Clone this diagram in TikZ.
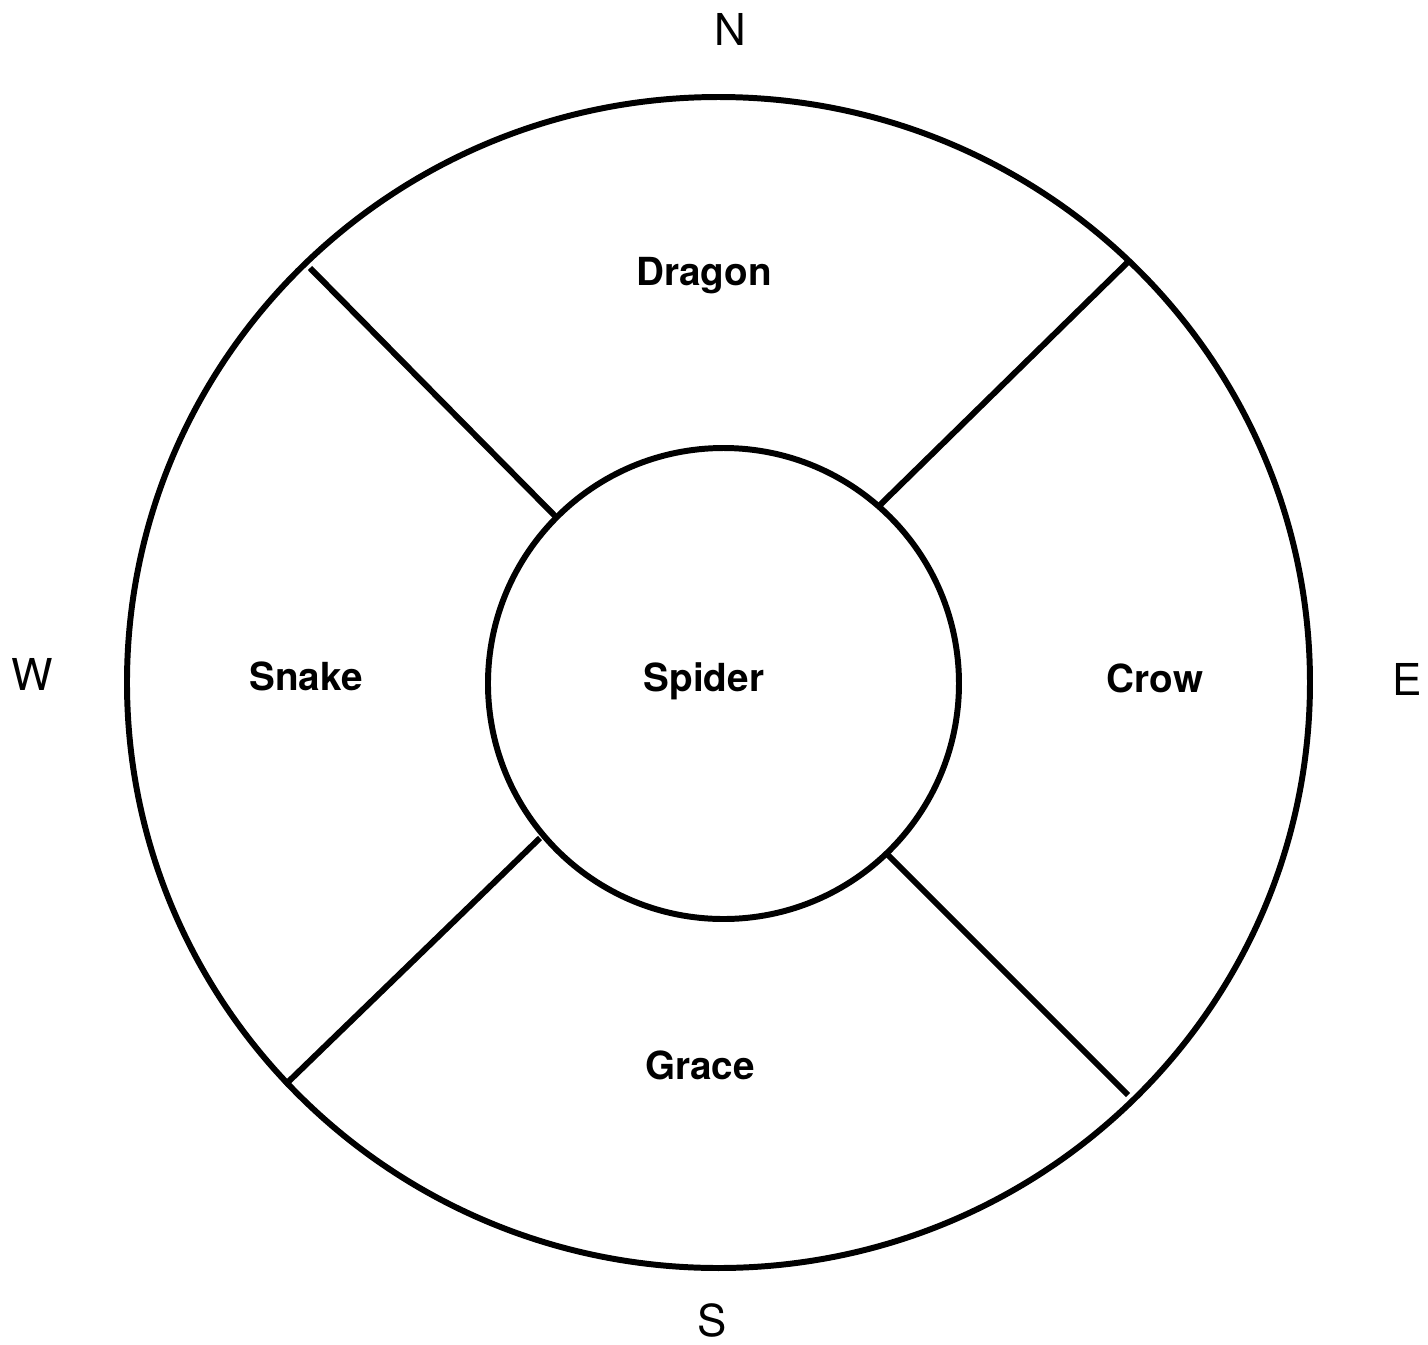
\documentclass[tikz,border=0pt]{standalone}
\usepackage{fontspec}
\setmainfont{TeX Gyre Heros}
\usepackage{tikz}

\tikzset{
  region/.style={font=\fontsize{11}{13}\selectfont\bfseries, anchor=base},
  compass/.style={font=\fontsize{12.5}{14}\selectfont, anchor=base},
  ring/.style={line width=1.7pt}
}

\begin{document}
\begin{tikzpicture}
    \useasboundingbox (-7.20,-6.60) rectangle (7.08,6.84);

    \draw[ring] (-0.015,0.015) ellipse [x radius=5.915, y radius=5.855];
    \node[ring, draw, circle, minimum size=4.71cm, inner sep=0pt] (spider) at (0.035,0.005) {};

    \coordinate (nwin) at (-1.63,1.66);
    \coordinate (nwout) at (-4.10,4.16);
    \coordinate (nein) at (1.60,1.79);
    \coordinate (neout) at (4.10,4.24);
    \coordinate (swin) at (-1.80,-1.54);
    \coordinate (swout) at (-4.35,-4.01);
    \coordinate (sein) at (1.68,-1.71);
    \coordinate (seout) at (4.08,-4.11);

    \draw[ring] (nwin) -- (nwout);
    \draw[ring] (nein) -- (neout);
    \draw[ring] (swin) -- (swout);
    \draw[ring] (sein) -- (seout);

    \node[region] (dragon) at (-0.16,3.99) {Dragon};
    \node[region] (snake) at (-4.14,-0.06) {Snake};
    \node[region] (spidername) at (-0.16,-0.07) {Spider};
    \node[region] (crow) at (4.35,-0.08) {Crow};
    \node[region] (grace) at (-0.20,-3.95) {Grace};

    \node[compass] (north) at (0.10,6.39) {N};
    \node[compass] (south) at (-0.08,-6.52) {S};
    \node[compass] (west) at (-6.88,-0.06) {W};
    \node[compass] (east) at (6.87,-0.11) {E};
\end{tikzpicture}
\end{document}
